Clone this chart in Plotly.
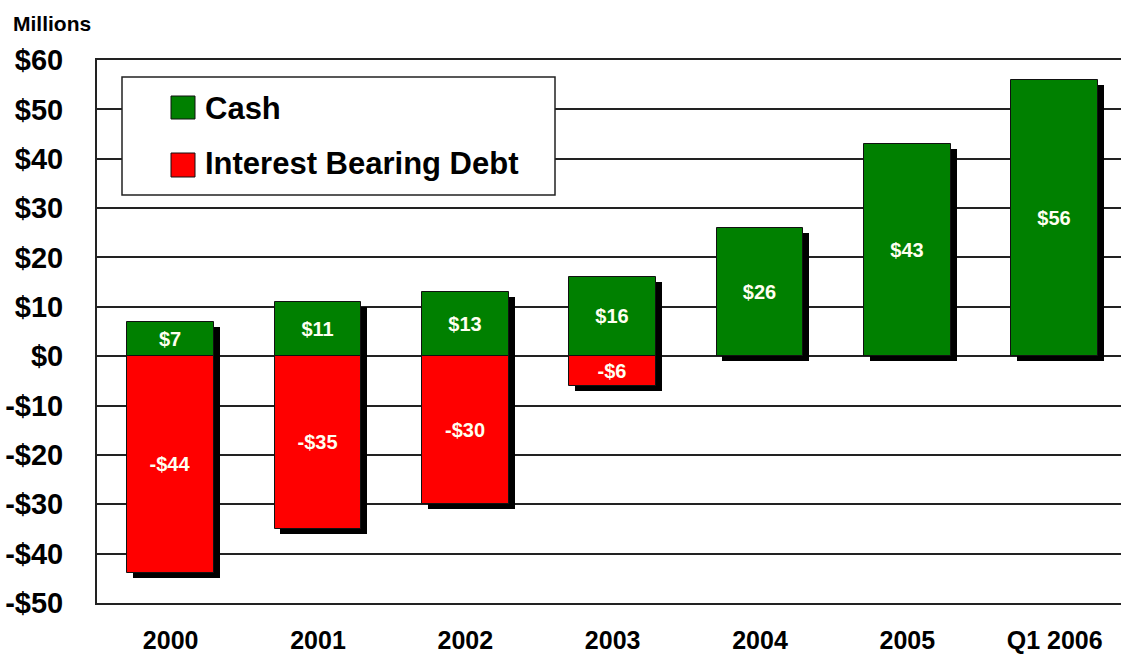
import plotly.graph_objects as go

categories = ["2000", "2001", "2002", "2003", "2004", "2005", "Q1 2006"]
cash = [7, 11, 13, 16, 26, 43, 56]
debt = [-44, -35, -30, -6, 0, 0, 0]
cash_labels = ["$7", "$11", "$13", "$16", "$26", "$43", "$56"]
debt_labels = ["-$44", "-$35", "-$30", "-$6", "", "", ""]
y_ticks = [60, 50, 40, 30, 20, 10, 0, -10, -20, -30, -40, -50]
y_tick_labels = ["$60", "$50", "$40", "$30", "$20", "$10", "$0",
                 "-$10", "-$20", "-$30", "-$40", "-$50"]

FONT = "Liberation Sans, Arial, sans-serif"
GREEN = "#008000"
RED = "#FF0000"

W, H = 1121, 668
ML, MR, MT, MB = 97, 0, 60, 65
PW, PH = W - ML - MR, H - MT - MB

def px(x):
    return (x - ML) / PW

def py(y):
    return (H - MB - y) / PH

bar_w = 0.59
sh_dx = 0.04
sh_dy = 1.0

lows = [min(d, 0) for d in debt]
spans = [c - l for c, l in zip(cash, lows)]

fig = go.Figure()

# drop shadows
fig.add_trace(go.Bar(
    x=categories, y=spans, base=[l - sh_dy for l in lows],
    width=bar_w, offset=-bar_w / 2 + sh_dx,
    marker=dict(color="#000000", line=dict(width=0)),
    hoverinfo="skip", showlegend=False,
))

fig.add_trace(go.Bar(
    x=categories, y=cash, name="Cash", width=bar_w, offset=-bar_w / 2,
    marker=dict(color=GREEN, line=dict(color="#111111", width=1)),
    text=cash_labels, textposition="inside", insidetextanchor="middle",
    textangle=0, constraintext="none",
    textfont=dict(family=FONT, size=20, color="#FFFFF0", weight="bold"),
    showlegend=False,
))

fig.add_trace(go.Bar(
    x=categories, y=debt, name="Interest Bearing Debt", width=bar_w, offset=-bar_w / 2,
    marker=dict(color=RED, line=dict(color="#111111", width=1)),
    text=debt_labels, textposition="inside", insidetextanchor="middle",
    textangle=0, constraintext="none",
    textfont=dict(family=FONT, size=20, color="#FFFFF0", weight="bold"),
    showlegend=False,
))

# legend box (drawn manually to match the original's large swatches)
shapes = [
    dict(type="rect", xref="paper", yref="paper",
         x0=px(122), x1=px(555), y0=py(195), y1=py(77),
         line=dict(color="#222222", width=1.5), fillcolor="white", layer="above"),
    dict(type="rect", xref="paper", yref="paper",
         x0=px(171), x1=px(195), y0=py(119), y1=py(96),
         line=dict(color="#111111", width=1), fillcolor=GREEN, layer="above"),
    dict(type="rect", xref="paper", yref="paper",
         x0=px(171), x1=px(195), y0=py(177), y1=py(153),
         line=dict(color="#111111", width=1), fillcolor=RED, layer="above"),
]

annotations = [
    dict(text="Cash", xref="paper", yref="paper", x=px(203), y=py(108),
         xanchor="left", yanchor="middle", showarrow=False,
         font=dict(family=FONT, size=31, color="black", weight="bold")),
    dict(text="Interest Bearing Debt", xref="paper", yref="paper", x=px(203), y=py(164),
         xanchor="left", yanchor="middle", showarrow=False,
         font=dict(family=FONT, size=31, color="black", weight="bold")),
    dict(text="Millions", xref="paper", yref="paper", x=px(11), y=py(23),
         xanchor="left", yanchor="middle", showarrow=False,
         font=dict(family=FONT, size=21, color="black", weight="bold")),
]

fig.update_layout(
    width=W, height=H,
    margin=dict(l=ML, r=MR, t=MT, b=MB),
    paper_bgcolor="white", plot_bgcolor="white",
    barmode="overlay", bargap=0,
    shapes=shapes, annotations=annotations,
    showlegend=False,
    xaxis=dict(
        type="category", range=[-0.5, 6.45], automargin=False,
        showgrid=False, zeroline=False,
        showline=True, mirror=True, linecolor="#222222", linewidth=2,
        ticks="", ticklabelstandoff=14,
        tickfont=dict(family=FONT, size=25, color="black", weight="bold"),
        fixedrange=True,
    ),
    yaxis=dict(
        range=[-50, 60], tickvals=y_ticks, ticktext=y_tick_labels, automargin=False,
        showgrid=True, gridcolor="#222222", gridwidth=2,
        zeroline=True, zerolinecolor="#222222", zerolinewidth=2,
        showline=True, linecolor="#222222", linewidth=2,
        ticks="", ticklabelstandoff=26,
        tickfont=dict(family=FONT, size=29, color="black", weight="bold"),
        fixedrange=True,
    ),
)

fig.write_html("out.html", config={"displayModeBar": False})
